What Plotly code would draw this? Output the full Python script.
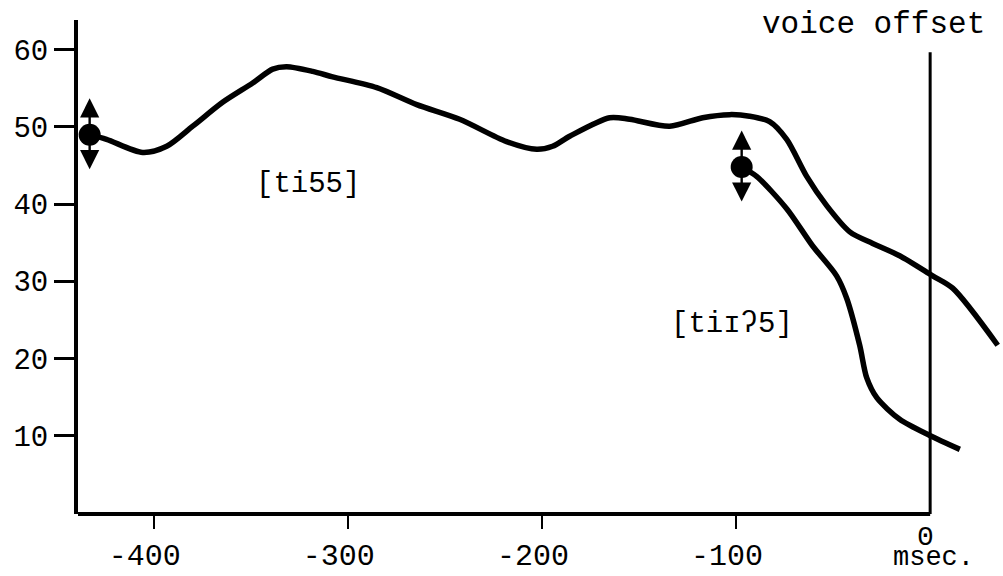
import plotly.graph_objects as go

# --- data ---
ti55_x = [-433.0, -424.3, -405.7, -393.3, -379.9, -364.5, -349.0, -338.7, -331.5, -318.1,
          -307.8, -285.1, -264.5, -242.4, -218.2, -202.7, -194.5, -185.7, -165.1, -154.8,
          -134.2, -117.2, -103.3, -93.0, -82.7, -73.9, -63.6, -53.3, -41.4, -29.6,
          -15.7, 1.3, 11.6, 34.8]
ti55_y = [49.0, 48.4, 46.7, 47.5, 50.1, 53.2, 55.7, 57.5, 57.8, 57.2,
          56.5, 55.1, 52.9, 51.0, 48.1, 47.1, 47.5, 48.8, 51.2, 51.0,
          50.1, 51.2, 51.6, 51.4, 50.7, 48.4, 43.6, 39.8, 36.4, 34.9,
          33.3, 30.7, 29.1, 21.7]

tii5_x = [-97.1, -89.4, -73.9, -60.6, -48.2, -43.0, -36.3, -32.7, -27.5, -15.7, -0.2, 15.3]
tii5_y = [44.8, 43.6, 39.4, 34.6, 30.7, 27.8, 21.7, 17.5, 14.9, 12.1, 10.0, 8.2]

x_tick_vals = [-400, -300, -200, -100]
x_tick_text = ["-400", "-300", "-200", "-100"]
y_tick_vals = [10, 20, 30, 40, 50, 60]
y_tick_text = ["10", "20", "30", "40", "50", "60"]

x_range = [-439, 36.5]
y_range = [-0.18, 63.87]
offset_top = 59.7

FONT = "Liberation Mono"

fig = go.Figure()

for xs, ys in [(ti55_x, ti55_y), (tii5_x, tii5_y)]:
    fig.add_trace(go.Scatter(x=xs, y=ys, mode="lines",
                             line=dict(color="black", width=5.5, shape="spline", smoothing=0.8),
                             hoverinfo="skip", showlegend=False))

# starting dots
fig.add_trace(go.Scatter(x=[ti55_x[0], tii5_x[0]], y=[ti55_y[0], tii5_y[0]], mode="markers",
                         marker=dict(color="black", size=22), showlegend=False, hoverinfo="skip"))

annotations = []
for sx, sy in [(ti55_x[0], ti55_y[0]), (tii5_x[0], tii5_y[0])]:
    for off in (-38, 36):
        annotations.append(dict(x=sx, y=sy, xref="x", yref="y", text="", showarrow=True,
                                ax=0, ay=off, arrowside="start", startarrowhead=2,
                                startarrowsize=1.6, arrowwidth=2.4, arrowcolor="black"))

annotations += [
    dict(x=-320.7, y=42.5, xref="x", yref="y", text="[ti55]", showarrow=False,
         font=dict(family=FONT, size=29, color="black"), xanchor="center", yanchor="middle"),
    dict(x=-102, y=24.4, xref="x", yref="y", text="[tiɪʔ5]", showarrow=False,
         font=dict(family=FONT, size=29, color="black"), xanchor="center", yanchor="middle"),
    dict(x=-29, y=1.0, xref="x", yref="paper", text="voice offset", showarrow=False,
         font=dict(family=FONT, size=31, color="black"), xanchor="center", yanchor="top",
         yshift=15),
    dict(x=-2.5, y=0, xref="x", yref="paper", text="0", showarrow=False,
         font=dict(family=FONT, size=28, color="black"), xanchor="center", yanchor="middle",
         yshift=-23),
    dict(x=1.5, y=0, xref="x", yref="paper", text="msec.", showarrow=False,
         font=dict(family=FONT, size=27, color="black"), xanchor="center", yanchor="middle",
         yshift=-44),
]

shapes = [
    dict(type="line", xref="x", yref="paper", x0=x_range[0], x1=0, y0=0, y1=0,
         line=dict(color="black", width=4)),
    dict(type="line", xref="x", yref="y", x0=0, x1=0, y0=y_range[0], y1=offset_top,
         line=dict(color="black", width=3)),
]

fig.update_layout(
    width=1003, height=576,
    margin=dict(l=78, r=2, t=20, b=59),
    paper_bgcolor="white", plot_bgcolor="white",
    showlegend=False,
    annotations=annotations,
    shapes=shapes,
    xaxis=dict(range=x_range, showline=False, showgrid=False, zeroline=False,
               ticks="outside", ticklen=14, tickwidth=2, tickcolor="black",
               tickvals=x_tick_vals, ticktext=[t + "\u00a0" for t in x_tick_text],
               tickfont=dict(family=FONT, size=30, color="black")),
    yaxis=dict(range=y_range, showline=True, linewidth=4, linecolor="black",
               showgrid=False, zeroline=False,
               ticks="outside", ticklen=20, tickwidth=2.5, tickcolor="black",
               tickvals=y_tick_vals, ticktext=y_tick_text,
               tickfont=dict(family=FONT, size=29, color="black")),
)

fig.write_html("out.html")
